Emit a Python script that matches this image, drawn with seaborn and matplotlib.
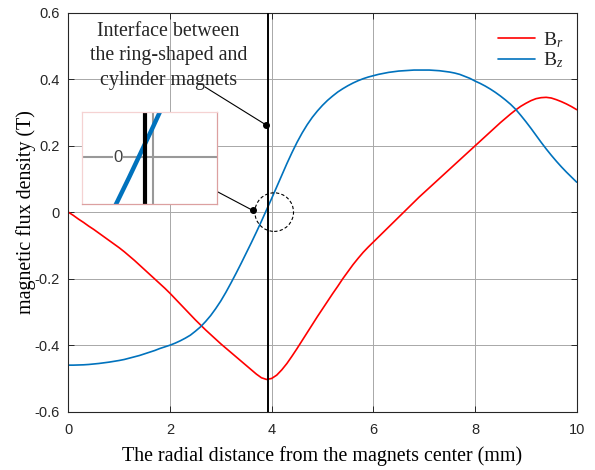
import numpy as np
import pandas as pd
import matplotlib
matplotlib.use("Agg")
import matplotlib.pyplot as plt
from matplotlib.patches import Ellipse
import seaborn as sns

# ---- data (x step 0.1 mm) ----
r_mm = [round(0.1 * i, 1) for i in range(101)]

B_r = [0.000, -0.010, -0.021, -0.031, -0.042, -0.052, -0.063, -0.074, -0.085, -0.096,
       -0.107, -0.119, -0.132, -0.145, -0.159, -0.173, -0.187, -0.201, -0.215, -0.229,
       -0.244, -0.260, -0.276, -0.292, -0.308, -0.324, -0.339, -0.354, -0.368, -0.382,
       -0.396, -0.409, -0.422, -0.435, -0.448, -0.461, -0.474, -0.487, -0.498, -0.503,
       -0.500, -0.490, -0.474, -0.455, -0.433, -0.410, -0.386, -0.362, -0.338, -0.314,
       -0.291, -0.268, -0.245, -0.223, -0.200, -0.179, -0.158, -0.139, -0.121, -0.105,
       -0.090, -0.075, -0.060, -0.045, -0.030, -0.015, 0.000, 0.015, 0.030, 0.045,
       0.059, 0.073, 0.087, 0.101, 0.115, 0.129, 0.143, 0.157, 0.171, 0.185,
       0.199, 0.213, 0.227, 0.241, 0.255, 0.269, 0.282, 0.295, 0.307, 0.318,
       0.327, 0.335, 0.341, 0.344, 0.345, 0.343, 0.338, 0.332, 0.325, 0.317, 0.308]

B_z = [-0.460, -0.460, -0.4595, -0.459, -0.458, -0.4565, -0.455, -0.453, -0.451, -0.4485,
       -0.446, -0.443, -0.439, -0.435, -0.431, -0.426, -0.421, -0.416, -0.410, -0.405,
       -0.400, -0.394, -0.387, -0.379, -0.370, -0.358, -0.345, -0.329, -0.311, -0.290,
       -0.267, -0.241, -0.213, -0.184, -0.154, -0.123, -0.092, -0.060, -0.027, 0.007,
       0.041, 0.076, 0.111, 0.146, 0.179, 0.210, 0.238, 0.263, 0.285, 0.304,
       0.321, 0.336, 0.349, 0.361, 0.371, 0.380, 0.388, 0.395, 0.401, 0.406,
       0.410, 0.414, 0.417, 0.420, 0.422, 0.424, 0.425, 0.426, 0.427, 0.427,
       0.427, 0.427, 0.426, 0.425, 0.423, 0.421, 0.418, 0.414, 0.408, 0.402,
       0.394, 0.387, 0.379, 0.370, 0.360, 0.349, 0.337, 0.324, 0.309, 0.291,
       0.272, 0.252, 0.231, 0.210, 0.190, 0.171, 0.153, 0.136, 0.120, 0.105, 0.090]

interface_x = 3.93
x_ticks = [0, 2, 4, 6, 8, 10]
y_ticks = [-0.6, -0.4, -0.2, 0, 0.2, 0.4, 0.6]
y_tick_labels = ["-0.6", "-0.4", "-0.2", "0", "0.2", "0.4", "0.6"]
series_labels = ["B$_r$", "B$_z$"]
note_text = "Interface between\nthe ring-shaped and\ncylinder magnets"
x_label = "The radial distance from the magnets center (mm)"
y_label = "magnetic flux density (T)"

# ---- style ----
sns.set_style("ticks")
plt.rcParams["font.family"] = ["Liberation Sans", "DejaVu Sans"]
plt.rcParams["mathtext.fontset"] = "custom"
plt.rcParams["mathtext.rm"] = "Liberation Serif"
plt.rcParams["mathtext.it"] = "Liberation Serif:italic"

RED = "#ff0000"
BLUE = "#0072bd"
GRID = "#a8a8a8"
AX = "#262626"
SERIF = ["Liberation Serif", "DejaVu Serif"]

df = pd.DataFrame({
    "r": r_mm * 2,
    "B": B_r + B_z,
    "comp": [series_labels[0]] * len(r_mm) + [series_labels[1]] * len(r_mm),
})

fig = plt.figure(figsize=(5.95, 4.70), dpi=100)
ax = fig.add_axes([0.1148, 0.124, 0.8544, 0.8494])

sns.lineplot(data=df, x="r", y="B", hue="comp", palette=[RED, BLUE],
             linewidth=1.2, ax=ax, sort=False, estimator=None)

ax.set_xlim(0, 10)
ax.set_ylim(-0.6, 0.6)
ax.set_xticks(x_ticks)
ax.set_yticks(y_ticks)
ax.set_yticklabels(y_tick_labels)
ax.grid(True, color=GRID, linewidth=0.7)
ax.set_axisbelow(True)
for s in ax.spines.values():
    s.set_visible(True)
    s.set_color(AX)
    s.set_linewidth(0.8)
ax.tick_params(direction="in", length=4, width=0.7, colors=AX, labelsize=10.5,
               top=True, right=True, pad=6)
ax.tick_params(axis="x", pad=8)

ax.set_xlabel(x_label, fontsize=14.4, family=SERIF, color="black", labelpad=7)
ax.set_ylabel(y_label, fontsize=14.4, family=SERIF, color="black", labelpad=-1)

# interface line
ax.axvline(interface_x, color="black", linewidth=1.4, zorder=3)

# dashed circle
ax.add_patch(Ellipse((4.05, 0.0), 0.76, 0.116, fill=False, edgecolor="black",
                     linestyle=(0, (3, 2)), linewidth=0.8, zorder=4))

# annotation text and leader lines
ax.text(1.97, 0.47, note_text, ha="center", va="center", fontsize=14.4,
        family=SERIF, linespacing=1.4, zorder=5)
ax.plot([2.69, 3.88], [0.376, 0.263], color="black", linewidth=0.8, zorder=5)
ax.plot([3.88], [0.263], marker="o", markersize=4, color="black", zorder=5)
ax.plot([2.59, 3.63], [0.089, 0.005], color="black", linewidth=0.8, zorder=5)
ax.plot([3.63], [0.005], marker="o", markersize=4, color="black", zorder=5)

# legend
handles, _ = ax.get_legend_handles_labels()
leg = ax.legend(handles=handles, labels=series_labels, loc="upper right",
                bbox_to_anchor=(1.0, 0.99),
                fontsize=14, handlelength=1.9, handletextpad=0.4,
                borderaxespad=0.3, labelspacing=0.05, frameon=True,
                fancybox=False)
leg.get_frame().set_edgecolor("none")
leg.get_frame().set_facecolor("white")
leg.get_frame().set_alpha(1)
for t in leg.get_texts():
    t.set_family(SERIF)

# inset zoom
ins = fig.add_axes([0.138, 0.566, 0.227, 0.196])
ins.plot(r_mm, B_z, color=BLUE, linewidth=3.2)
ins.axvline(interface_x, color="black", linewidth=3.0)
ins.axvline(4.0, color="#999999", linewidth=1.5, zorder=0)
ins.axhline(0.0, color="#999999", linewidth=1.5, zorder=0)
ins.set_xlim(3.407, 4.537)
ins.set_ylim(-0.0627, 0.0613)
ins.set_xticks([])
ins.set_yticks([])
ins.text(0.265, 0.506, "0", transform=ins.transAxes, ha="center", va="center",
         fontsize=12, color="#404040",
         bbox=dict(facecolor="white", edgecolor="none", pad=0.5))
for side in ["top", "left"]:
    ins.spines[side].set_color("#f5d2d2")
for side in ["right", "bottom"]:
    ins.spines[side].set_color("#dca0a0")
for s in ins.spines.values():
    s.set_linewidth(0.9)

fig.savefig("out.png", dpi=100)
